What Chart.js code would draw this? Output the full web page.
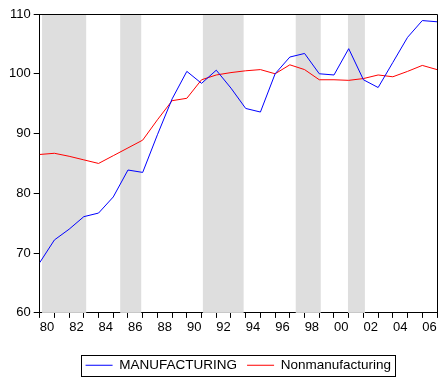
<!DOCTYPE html>
<html>
<head>
<meta charset="utf-8">
<script src="https://cdn.jsdelivr.net/npm/chart.js@4/dist/chart.umd.min.js"></script>
<style>
  html, body { margin: 0; padding: 0; background: #fff; }
  #wrap { width: 447px; height: 389px; }
</style>
</head>
<body>
<div id="wrap"><canvas id="chart" width="447" height="389"></canvas></div>
<script>
// year labels, one per two-year step (label sits in the middle of its year)
const yearLabels = ['80', '82', '84', '86', '88', '90', '92', '94', '96', '98', '00', '02', '04', '06'];

// index values, one point per year boundary
const manufacturing = [68.4, 72.2, 74.0, 76.1, 76.7, 79.4, 83.9, 83.5, 89.8, 95.8,
  100.4, 98.4, 100.6, 97.6, 94.2, 93.6, 100.0, 102.8, 103.4, 100.0,
  99.8, 104.2, 99.0, 97.7, 101.9, 106.1, 108.9, 108.7];
const nonmanufacturing = [86.5, 86.7, 86.2, 85.6, 85.0, 86.3, 87.6, 88.9, 92.3, 95.5,
  95.9, 99.0, 99.8, 100.2, 100.5, 100.7, 100.0, 101.5, 100.7, 99.0,
  99.0, 98.9, 99.2, 99.8, 99.5, 100.4, 101.4, 100.7];

// shaded periods, in the same x units as the points
const shadeStart = [0.16, 5.47, 11.09, 17.4, 20.95];
const shadeEnd = [3.16, 6.9, 13.86, 19.1, 22.1];

const xs = manufacturing.map((v, i) => i);
const font = { family: 'Liberation Sans, Arial, sans-serif', size: 13 };

const shading = {
  id: 'shading',
  beforeDatasetsDraw(chart) {
    const { ctx, chartArea, scales } = chart;
    ctx.save();
    ctx.fillStyle = '#dedede';
    shadeStart.forEach((s, i) => {
      const x1 = scales.x.getPixelForValue(s);
      const x2 = scales.x.getPixelForValue(shadeEnd[i]);
      ctx.fillRect(x1, chartArea.top, x2 - x1, chartArea.bottom - chartArea.top);
    });
    ctx.restore();
  }
};

// top and right edges of the plot box (left and bottom are the axis lines),
// plus a box round the legend items
const frame = {
  id: 'frame',
  afterDraw(chart) {
    const { ctx, chartArea } = chart;
    const top = Math.round(chartArea.top) + 0.5;
    const right = Math.round(chartArea.right) + 0.5;
    ctx.save();
    ctx.strokeStyle = '#000';
    ctx.lineWidth = 1;
    ctx.beginPath();
    ctx.moveTo(chartArea.left, top);
    ctx.lineTo(right, top);
    ctx.lineTo(right, chartArea.bottom);
    ctx.stroke();
    const boxes = chart.legend.legendHitBoxes;
    if (boxes && boxes.length) {
      const first = boxes[0], last = boxes[boxes.length - 1];
      const l = Math.round(first.left - 5) + 0.5;
      const r = Math.round(last.left + last.width + 4) + 0.5;
      const t = Math.round(first.top - 4) + 0.5;
      const b = Math.round(first.top + first.height + 4) + 0.5;
      ctx.strokeRect(l, t, r - l, b - t);
    }
    ctx.restore();
  }
};

new Chart(document.getElementById('chart'), {
  type: 'line',
  data: {
    labels: xs,
    datasets: [
      {
        label: 'MANUFACTURING',
        data: xs.map(i => ({ x: i, y: manufacturing[i] })),
        borderColor: '#0000ff',
        backgroundColor: '#0000ff',
        borderWidth: 1,
        pointRadius: 0,
        tension: 0
      },
      {
        label: 'Nonmanufacturing',
        data: xs.map(i => ({ x: i, y: nonmanufacturing[i] })),
        borderColor: '#ff0000',
        backgroundColor: '#ff0000',
        borderWidth: 1,
        pointRadius: 0,
        tension: 0
      }
    ]
  },
  options: {
    responsive: false,
    animation: false,
    layout: { padding: { top: 14, right: 10, left: 6, bottom: 7 } },
    plugins: {
      tooltip: { enabled: false },
      legend: {
        position: 'bottom',
        fullSize: false,
        labels: {
          usePointStyle: true,
          pointStyle: 'line',
          pointStyleWidth: 27,
          color: '#000',
          padding: 10,
          font: { family: font.family, size: 13.5 }
        }
      }
    },
    scales: {
      x: {
        type: 'linear',
        min: 0,
        max: xs.length - 1,
        afterFit: scale => { scale.height += 11; },
        grid: { drawOnChartArea: false, drawTicks: true, tickLength: 5, color: '#000' },
        border: { color: '#000' },
        ticks: {
          stepSize: 1,
          autoSkip: false,
          maxRotation: 0,
          labelOffset: 7.3,
          padding: 2,
          color: '#000',
          font: font,
          callback: v => (v % 2 === 0 && v / 2 < yearLabels.length) ? yearLabels[v / 2] : ''
        }
      },
      y: {
        min: 60,
        max: 110,
        grid: { drawOnChartArea: false, drawTicks: true, tickLength: 6, color: '#000' },
        border: { color: '#000' },
        ticks: {
          stepSize: 10,
          padding: 3,
          color: '#000',
          font: font
        }
      }
    }
  },
  plugins: [shading, frame]
});
</script>
</body>
</html>
